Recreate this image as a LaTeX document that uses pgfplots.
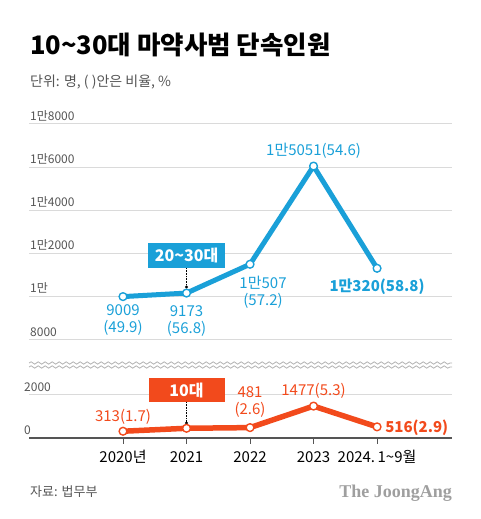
\documentclass[border=0pt]{standalone}
\usepackage{fontspec}
\setmainfont{Noto Sans CJK KR}
\newfontfamily\logofont{Liberation Serif}
\usepackage{pgfplots}
\pgfplotsset{compat=1.18}
\usetikzlibrary{decorations.pathmorphing}
\definecolor{cblue}{HTML}{1AA0D8}
\definecolor{corange}{HTML}{F24A1C}
\definecolor{gridgray}{HTML}{DADADA}
\definecolor{txtgray}{HTML}{555555}
\newcommand{\fs}[1]{\fontsize{#1}{#1}\selectfont}
\begin{document}
\begin{tikzpicture}[x=1pt,y=1pt]
\path[use as bounding box] (0,0) rectangle (480,519);
% title and subtitle
\node[anchor=base west, inner sep=0, font=\fs{25.5}\bfseries] at (30,464) {10\textasciitilde30대 마약사범 단속인원};
\node[anchor=base west, inner sep=0, font=\fs{14}, text=txtgray] at (30,432) {단위: 명, ( )안은 비율, \%};
% top panel: 20-30s
\begin{axis}[
  at={(29pt,179pt)}, anchor=south west, scale only axis,
  width=423pt, height=216pt,
  xmin=-1.48, xmax=5.18, ymin=7000, ymax=17000,
  axis line style={draw=none},
  xtick=\empty,
  scaled y ticks=false,
  ytick={7000,9000,11000,13000,15000,17000},
  yticklabels={8000,1만,1만2000,1만4000,1만6000,1만8000},
  yticklabel style={anchor=south west, inner sep=0pt, font=\fs{12}, text=txtgray, yshift=3pt, xshift=1pt},
  major tick length=0pt,
  ymajorgrids, grid style={gridgray, line width=1pt},
  clip=false,
]
\addplot[cblue, line width=5pt, line join=round, mark=*, mark size=3.9pt,
  mark options={fill=white, draw=cblue, line width=1.4pt}]
  coordinates {(0,9009) (1,9173) (2,10507) (3,15051) (4,10320)};
\node[anchor=north, inner sep=0, align=center, text=cblue, font=\fontsize{15}{17}\selectfont, yshift=-8pt] at (axis cs:0,9009) {9009\\(49.9)};
\node[anchor=north, inner sep=0, align=center, text=cblue, font=\fontsize{15}{17}\selectfont, yshift=-12pt] at (axis cs:1,9173) {9173\\(56.8)};
\node[anchor=north, inner sep=0, align=center, text=cblue, font=\fontsize{15}{17}\selectfont, yshift=-12pt, xshift=13pt] at (axis cs:2,10507) {1만507\\(57.2)};
\node[anchor=base, inner sep=0, text=cblue, font=\fs{15}, yshift=11pt] at (axis cs:3,15051) {1만5051(54.6)};
\node[anchor=base, inner sep=0, text=cblue, font=\fs{15}\bfseries, yshift=-23pt] at (axis cs:4,10320) {1만320(58.8)};
\draw[densely dotted, black, line width=0.6pt] (axis cs:1,10333) -- (axis cs:1,9454);
\fill[black] (axis cs:1,9454) circle (1.6pt);
\node[fill=cblue, text=white, font=\fs{16}\bfseries, minimum width=77pt, minimum height=25pt, inner sep=0] at (axis cs:1,10912) {20\textasciitilde30대};
\end{axis}
% axis break
\draw[decorate, decoration={snake, amplitude=1.2pt, segment length=7pt}, gray!60, line width=0.8pt] (29,156) -- (452,156);
\draw[decorate, decoration={snake, amplitude=1.2pt, segment length=7pt}, gray!60, line width=0.8pt] (29,152) -- (452,152);
% bottom panel: teens
\begin{axis}[
  at={(29pt,81pt)}, anchor=south west, scale only axis,
  width=423pt, height=43.2pt,
  xmin=-1.48, xmax=5.18, ymin=0, ymax=2000,
  axis line style={draw=none},
  xtick={0,1,2,3,4},
  xticklabels={2020년,2021,2022,2023,{2024.\,1\textasciitilde9월}},
  xtick pos=bottom, tick align=outside, major tick length=6pt,
  xtick style={draw=txtgray, line width=1pt},
  xticklabel style={anchor=base, font=\fs{15}, text=black, yshift=-19pt},
  scaled y ticks=false,
  ytick={0,2000},
  yticklabels={0,2000},
  ytick style={draw=none},
  yticklabel style={anchor=south west, inner sep=0pt, font=\fs{12}, text=txtgray, yshift=3pt, xshift=1pt},
  ymajorgrids, grid style={gridgray, line width=1pt},
  clip=false,
]
\draw[txtgray, line width=1.5pt] (axis cs:-1.48,0) -- (axis cs:5.18,0);
\addplot[corange, line width=5.5pt, line join=round, mark=*, mark size=3.9pt,
  mark options={fill=white, draw=corange, line width=1.4pt}]
  coordinates {(0,313) (1,450) (2,481) (3,1477) (4,516)};
\node[anchor=base, inner sep=0, text=corange, font=\fs{15}, yshift=10pt] at (axis cs:0,313) {313(1.7)};
\node[anchor=south, inner sep=0, align=center, text=corange, font=\fontsize{15}{17}\selectfont, yshift=10pt] at (axis cs:2,481) {481\\(2.6)};
\node[anchor=base, inner sep=0, text=corange, font=\fs{15}, yshift=11pt] at (axis cs:3,1477) {1477(5.3)};
\node[anchor=base west, inner sep=0, text=corange, font=\fs{15}\bfseries, xshift=8pt, yshift=-6pt] at (axis cs:4,516) {516(2.9)};
\draw[densely dotted, black, line width=0.6pt] (axis cs:1,1667) -- (axis cs:1,694);
\fill[black] (axis cs:1,694) circle (1.6pt);
\node[fill=corange, text=white, font=\fs{16}\bfseries, minimum width=76pt, minimum height=24pt, inner sep=0] at (axis cs:1,2222) {10대};
\end{axis}
% source and logo
\node[anchor=base west, inner sep=0, font=\fs{13}, text=txtgray] at (30,22) {자료: 법무부};
\node[anchor=base east, inner sep=0, font=\logofont\bfseries\fs{18}, text=gray!75] at (452,21) {The JoongAng};
\end{tikzpicture}
\end{document}
